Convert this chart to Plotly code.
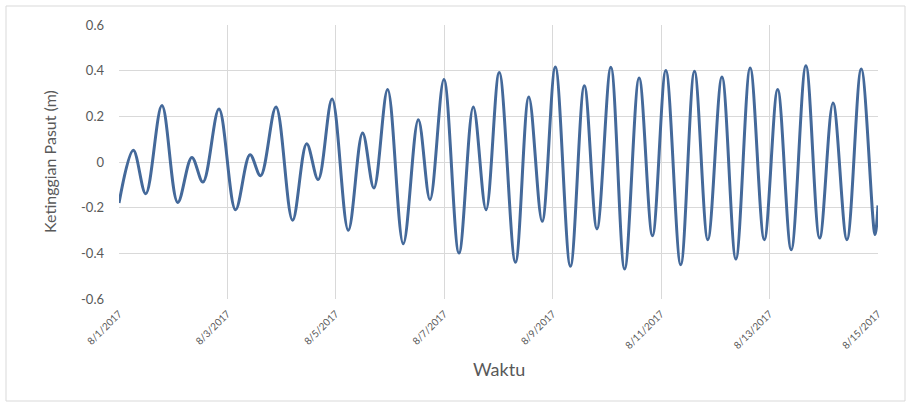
import plotly.graph_objects as go

# Tidal turning points (high / low water) read for 1-15 August 2017
waktu = [
    "2017-08-01 00:00", "2017-08-01 06:20", "2017-08-01 11:50", "2017-08-01 19:00",
    "2017-08-02 02:00", "2017-08-02 08:15", "2017-08-02 13:10", "2017-08-02 20:15",
    "2017-08-03 03:35", "2017-08-03 10:00", "2017-08-03 14:40", "2017-08-03 21:30",
    "2017-08-04 04:50", "2017-08-04 11:05", "2017-08-04 16:10", "2017-08-04 22:20",
    "2017-08-05 05:30", "2017-08-05 11:50", "2017-08-05 16:50", "2017-08-05 22:55",
    "2017-08-06 05:50", "2017-08-06 12:30", "2017-08-06 17:40", "2017-08-06 23:50",
    "2017-08-07 06:30", "2017-08-07 12:50", "2017-08-07 18:30", "2017-08-08 00:20",
    "2017-08-08 07:30", "2017-08-08 13:25", "2017-08-08 19:20", "2017-08-09 01:10",
    "2017-08-09 07:50", "2017-08-09 14:00", "2017-08-09 19:35", "2017-08-10 01:45",
    "2017-08-10 07:50", "2017-08-10 14:15", "2017-08-10 20:10", "2017-08-11 02:05",
    "2017-08-11 08:40", "2017-08-11 14:45", "2017-08-11 20:40", "2017-08-12 02:55",
    "2017-08-12 09:05", "2017-08-12 15:25", "2017-08-12 21:40", "2017-08-13 03:35",
    "2017-08-13 09:35", "2017-08-13 16:05", "2017-08-13 22:10", "2017-08-14 04:05",
    "2017-08-14 10:15", "2017-08-14 16:35", "2017-08-14 22:40", "2017-08-15 00:00",
]
ketinggian = [
    -0.18, 0.051, -0.139, 0.247,
    -0.177, 0.020, -0.088, 0.232,
    -0.209, 0.032, -0.060, 0.241,
    -0.255, 0.080, -0.077, 0.276,
    -0.299, 0.127, -0.114, 0.317,
    -0.358, 0.185, -0.165, 0.361,
    -0.399, 0.241, -0.209, 0.392,
    -0.439, 0.285, -0.260, 0.416,
    -0.457, 0.334, -0.293, 0.415,
    -0.469, 0.368, -0.323, 0.401,
    -0.450, 0.397, -0.340, 0.372,
    -0.425, 0.412, -0.340, 0.317,
    -0.384, 0.422, -0.333, 0.258,
    -0.340, 0.407, -0.318, -0.19,
]

y_ticks = [-0.6, -0.4, -0.2, 0, 0.2, 0.4, 0.6]
y_labels = ["-0.6", "-0.4", "-0.2", "0", "0.2", "0.4", "0.6"]
x_ticks = ["2017-08-01", "2017-08-03", "2017-08-05", "2017-08-07",
           "2017-08-09", "2017-08-11", "2017-08-13", "2017-08-15"]
x_labels = ["8/1/2017", "8/3/2017", "8/5/2017", "8/7/2017",
            "8/9/2017", "8/11/2017", "8/13/2017", "8/15/2017"]

W, H = 910, 404
ML, MR, MT, MB = 119, 32, 25, 105
FONT = "Lato, 'Open Sans', sans-serif"
GRID = "#d9d9d9"
TEXT = "#595959"

fig = go.Figure(
    go.Scatter(
        x=waktu, y=ketinggian, mode="lines",
        line=dict(color="#44699a", width=3, shape="spline", smoothing=1.0),
        hoverinfo="x+y",
    )
)

# pixel -> paper coordinate helpers for the plot area
pw, ph = W - ML - MR, H - MT - MB
def px_x(p):
    return (p - ML) / pw
def px_y(p):
    return (H - MB - p) / ph

# outer chart border
fig.add_shape(
    type="rect", xref="paper", yref="paper",
    x0=px_x(6), x1=px_x(905), y0=px_y(401), y1=px_y(6),
    line=dict(color="#d9d9d9", width=1), fillcolor="rgba(0,0,0,0)", layer="below",
)

# axis titles
fig.add_annotation(
    text="Ketinggian Pasut (m)", xref="paper", yref="paper",
    x=px_x(49), y=0.5, xanchor="center", yanchor="middle",
    textangle=-90, showarrow=False, font=dict(size=16, color=TEXT),
)
fig.add_annotation(
    text="Waktu", xref="paper", yref="paper",
    x=0.5, y=px_y(369), xanchor="center", yanchor="middle",
    showarrow=False, font=dict(size=18, color=TEXT),
)

fig.update_layout(
    width=W, height=H,
    margin=dict(l=ML, r=MR, t=MT, b=MB, autoexpand=False),
    paper_bgcolor="white", plot_bgcolor="white",
    showlegend=False,
    font=dict(family=FONT, color=TEXT),
)
fig.update_xaxes(
    type="date",
    range=["2017-08-01", "2017-08-15"],
    tickvals=x_ticks, ticktext=x_labels,
    tickangle=-45, tickfont=dict(size=10, color=TEXT),
    showgrid=True, gridcolor=GRID, gridwidth=1,
    zeroline=False, showline=False, ticks="",
    ticklabelstandoff=6,
)
fig.update_yaxes(
    range=[-0.6, 0.6],
    tickvals=y_ticks, ticktext=y_labels,
    tickfont=dict(size=13, color=TEXT),
    showgrid=True, gridcolor=GRID, gridwidth=1,
    zeroline=False, showline=False, ticks="",
    ticklabelstandoff=14,
)

fig.write_html("out.html")
